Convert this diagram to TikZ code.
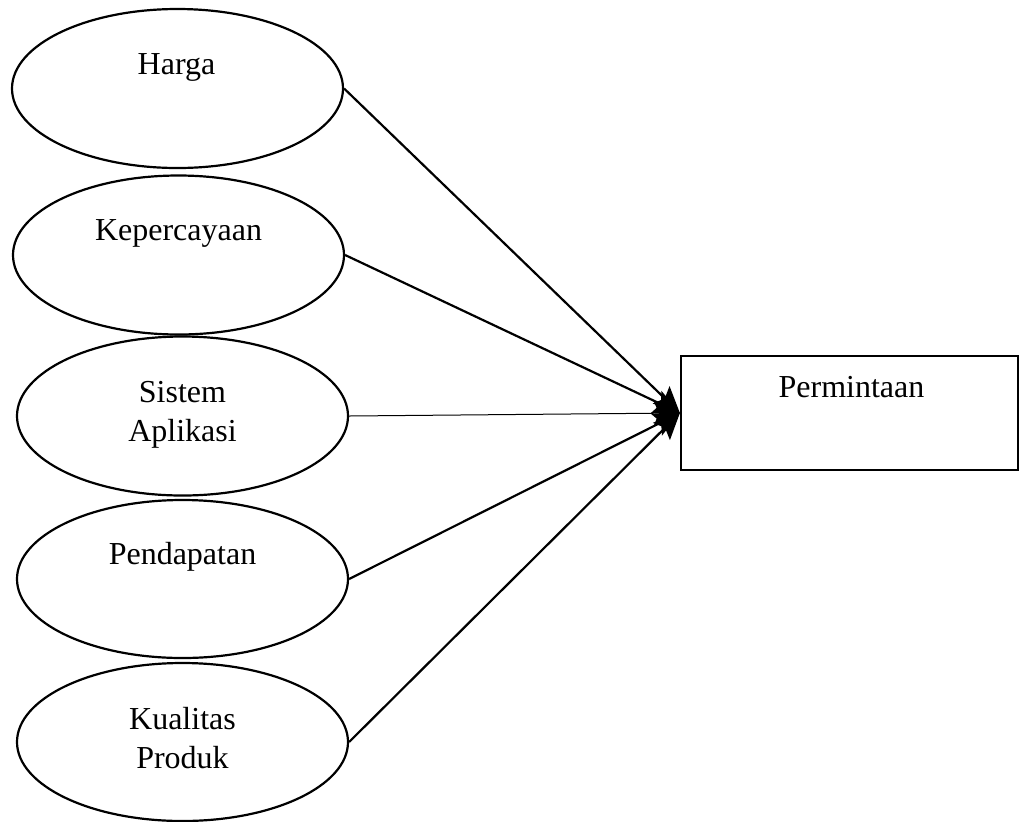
\documentclass[tikz,border=0pt]{standalone}
\usepackage{fontspec}
\setmainfont{Liberation Serif}
\usetikzlibrary{shapes.geometric,arrows.meta}
\begin{document}
\begin{tikzpicture}[x=0.5pt,y=-0.5pt,
  var/.style={draw,ellipse,line width=1.1pt,inner sep=0pt,minimum width=165.5pt,minimum height=79.5pt},
  lbl/.style={anchor=base,font=\fontsize{16}{19.5}\selectfont,inner sep=0pt},
  conn/.style={line width=1.1pt,-{Stealth[length=13pt,width=12pt,inset=2.5pt]}}]
\useasboundingbox (0,0) rectangle (1019,821);
\node[var] (e1) at (177.5,88.5) {};
\node[var] (e2) at (178.5,255) {};
\node[var] (e3) at (182.5,416) {};
\node[var,minimum height=79pt] (e4) at (182.5,579) {};
\node[var,minimum height=79pt] (e5) at (182.5,742) {};
\node[lbl] (t1) at (176.5,74) {Harga};
\node[lbl] (t2) at (178.5,240) {Kepercayaan};
\node[lbl] (t3a) at (182.5,402) {Sistem};
\node[lbl] (t3b) at (182.5,441) {Aplikasi};
\node[lbl] (t4) at (182.5,564) {Pendapatan};
\node[lbl] (t5a) at (182.5,729) {Kualitas};
\node[lbl] (t5b) at (182.5,768) {Produk};
\node[draw,line width=1.1pt,minimum width=168.5pt,minimum height=57pt,inner sep=0pt] (p) at (849.5,413) {};
\node[lbl] (tp) at (851.5,397) {Permintaan};
\coordinate (tip) at (p.west);
\draw[conn] (e1.east) -- (tip);
\draw[conn] (e2.east) -- (tip);
\draw[conn,line width=0.5pt] (e3.east) -- (tip);
\draw[conn] (e4.east) -- (tip);
\draw[conn] (e5.east) -- (tip);
\end{tikzpicture}
\end{document}
